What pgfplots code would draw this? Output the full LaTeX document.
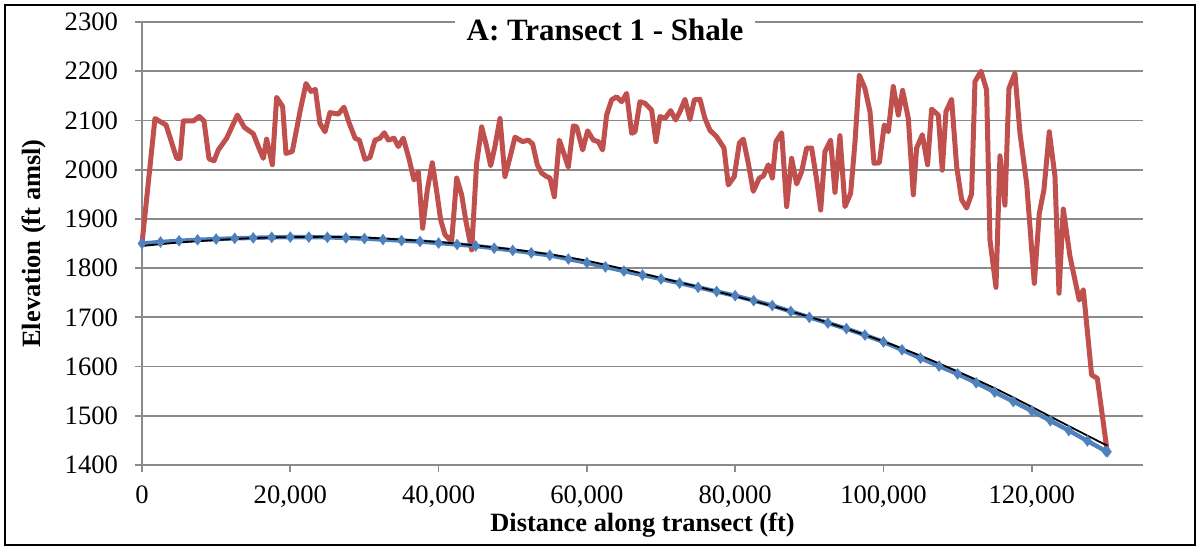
\documentclass[border=0pt]{standalone}
\usepackage{fontspec}
\setmainfont{Liberation Serif}
\usepackage{pgfplots}
\pgfplotsset{compat=1.18}
\definecolor{exred}{HTML}{C0504D}
\definecolor{exblue}{HTML}{4F81BD}
\definecolor{gridgray}{HTML}{8A8A8A}
\begin{document}
\begin{tikzpicture}
\path[use as bounding box] (-71pt,-41.5pt) rectangle (529pt,232.5pt);
\draw[line width=1pt] (-68.5pt,-40pt) rectangle (526.5pt,230pt);
\begin{axis}[
  scale only axis,
  width=500.5pt, height=221.5pt,
  xmin=0, xmax=135000, ymin=1400, ymax=2300,
  xtick={0,20000,40000,60000,80000,100000,120000},
  xticklabels={0,{20,000},{40,000},{60,000},{80,000},{100,000},{120,000}},
  ytick={1400,1500,1600,1700,1800,1900,2000,2100,2200,2300},
  yticklabels={1400,1500,1600,1700,1800,1900,2000,2100,2200,2300},
  scaled ticks=false,
  axis lines=left,
  axis line style={-, draw=gridgray, line width=0.9pt},
  ymajorgrids,
  major grid style={draw=gridgray, line width=0.9pt},
  tick align=outside,
  major tick length=3.5pt,
  tick style={draw=gridgray, line width=0.9pt},
  ticklabel style={font=\fontsize{13.3}{15}\selectfont, text=black},
  xticklabel style={yshift=-3.5pt},
  yticklabel style={xshift=-5pt},
  xlabel={Distance along transect (ft)},
  ylabel={Elevation (ft amsl)},
  xlabel style={at={(rel axis cs:0.5,0)}, anchor=center, yshift=-30pt, font=\bfseries\fontsize{13.2}{15}\selectfont},
  ylabel style={at={(rel axis cs:0,0.5)}, anchor=center, yshift=54pt, font=\bfseries\fontsize{13.2}{15}\selectfont},
  clip=false,
]
\addplot[exred, line width=2.5pt, line join=round] coordinates {
(0,1850) (1750,2104) (2650,2096) (3240,2091) (4680,2023) (5130,2023) (5570,2099) (6920,2099)
(7730,2108) (8360,2099) (9040,2022) (9710,2018) (10290,2040) (11420,2064) (12860,2111) (13800,2086)
(15010,2073) (15690,2047) (16360,2023) (16810,2062) (17580,2010) (18160,2147) (18970,2128) (19420,2033)
(20270,2037) (21310,2118) (22120,2175) (22790,2159) (23380,2163) (24000,2094) (24680,2077) (25350,2116)
(26480,2113) (27240,2127) (27960,2094) (28730,2064) (29310,2060) (30070,2021) (30750,2025) (31420,2060)
(32100,2064) (32680,2075) (33220,2060) (33980,2064) (34570,2047) (35240,2064) (36050,2020) (36680,1979)
(37270,1996) (37850,1881) (38480,1959) (39150,2014) (39740,1956) (40280,1898) (40860,1868) (41760,1854)
(42440,1983) (43110,1949) (43690,1895) (44460,1837) (45130,2013) (45810,2087) (46480,2047) (47020,2008)
(47600,2047) (48280,2104) (48950,1986) (49630,2025) (50300,2066) (51340,2057) (52100,2060) (52690,2052)
(53310,2010) (53900,1993) (54570,1986) (55020,1983) (55610,1945) (56280,2060) (56960,2030) (57490,2005)
(58170,2089) (58620,2087) (59430,2040) (60100,2079) (60870,2060) (61540,2057) (62120,2040) (62660,2111)
(63340,2142) (64010,2148) (64690,2138) (65360,2155) (66040,2074) (66490,2077) (67160,2138) (67830,2135)
(68730,2121) (69320,2057) (69860,2108) (70530,2104) (71300,2120) (71970,2101) (72550,2118) (73230,2143)
(73900,2102) (74490,2142) (75250,2143) (75920,2104) (76600,2080) (77500,2067) (78490,2044) (79070,1969)
(79880,1986) (80560,2054) (81100,2062) (81770,2013) (82440,1956) (83250,1983) (83790,1987) (84470,2010)
(85010,1983) (85500,2057) (86270,2075) (86940,1925) (87610,2023) (88290,1971) (88960,1996) (89640,2044)
(90310,2044) (90990,1979) (91530,1918) (92110,2037) (92870,2060) (93460,1954) (94130,2069) (94810,1925)
(95570,1952) (96150,2054) (96740,2192) (97500,2165) (98180,2118) (98720,2013) (99440,2014) (100110,2091)
(100650,2077) (101320,2169) (102000,2111) (102580,2161) (103350,2104) (104020,1949) (104470,2044) (105240,2071)
(105950,2010) (106490,2123) (107390,2111) (107930,1999) (108430,2118) (109190,2143) (109870,2006) (110540,1939)
(111210,1922) (111890,1951) (112340,2179) (113150,2200) (113910,2162) (114360,1857) (115170,1761) (115710,2028)
(116380,1928) (116920,2165) (117730,2196) (118410,2074) (119310,1972) (120340,1769) (121010,1911) (121640,1959)
(122360,2077) (123130,1986) (123670,1749) (124250,1920) (125150,1824) (125820,1776) (126400,1735) (126950,1756)
(128070,1583) (128840,1576) (130200,1424)
};
\addplot[exblue, line width=2.2pt, mark=diamond*, mark size=1.1pt, mark options={fill=exblue, draw=exblue}] coordinates {
(0,1850) (2500,1853) (5000,1855.5) (7500,1857.5) (10000,1859) (12500,1860.5) (15000,1861.5) (17500,1862.5)
(20000,1863) (22500,1863) (25000,1862.5) (27500,1861.5) (30000,1860) (32500,1858) (35000,1856) (37500,1854)
(40000,1851) (42500,1848) (45000,1845) (47500,1840.5) (50000,1836) (52500,1831) (55000,1826) (57500,1818.5)
(60000,1811) (62500,1802.5) (65000,1794) (67500,1786) (70000,1778) (72500,1769.5) (75000,1761) (77500,1752.5)
(80000,1744) (82500,1734) (85000,1724) (87500,1712) (90000,1700) (92500,1688.5) (95000,1677) (97500,1664)
(100000,1650) (102500,1634) (105000,1617) (107500,1601) (110000,1585) (112500,1567) (115000,1548) (117500,1529)
(120000,1510) (122500,1490) (125000,1470) (127500,1449) (130000,1428) (130200,1427)
};
\addplot[black, line width=0.9pt, smooth] coordinates {
(0,1845) (5000,1852) (10000,1857) (15000,1861) (20000,1863) (25000,1863.5) (30000,1862) (35000,1858)
(40000,1853) (45000,1846) (50000,1838) (55000,1828) (60000,1815) (65000,1798) (70000,1780) (75000,1762)
(80000,1743) (85000,1723) (90000,1701) (95000,1677) (100000,1651) (105000,1622) (110000,1590) (115000,1556)
(120000,1518) (125000,1479) (130200,1439)
};
\node[fill=white, inner xsep=6pt, inner ysep=2pt, font=\bfseries\fontsize{15.5}{17}\selectfont] at (rel axis cs:0.4625,0.982) {A: Transect 1 - Shale};
\end{axis}
\end{tikzpicture}
\end{document}
